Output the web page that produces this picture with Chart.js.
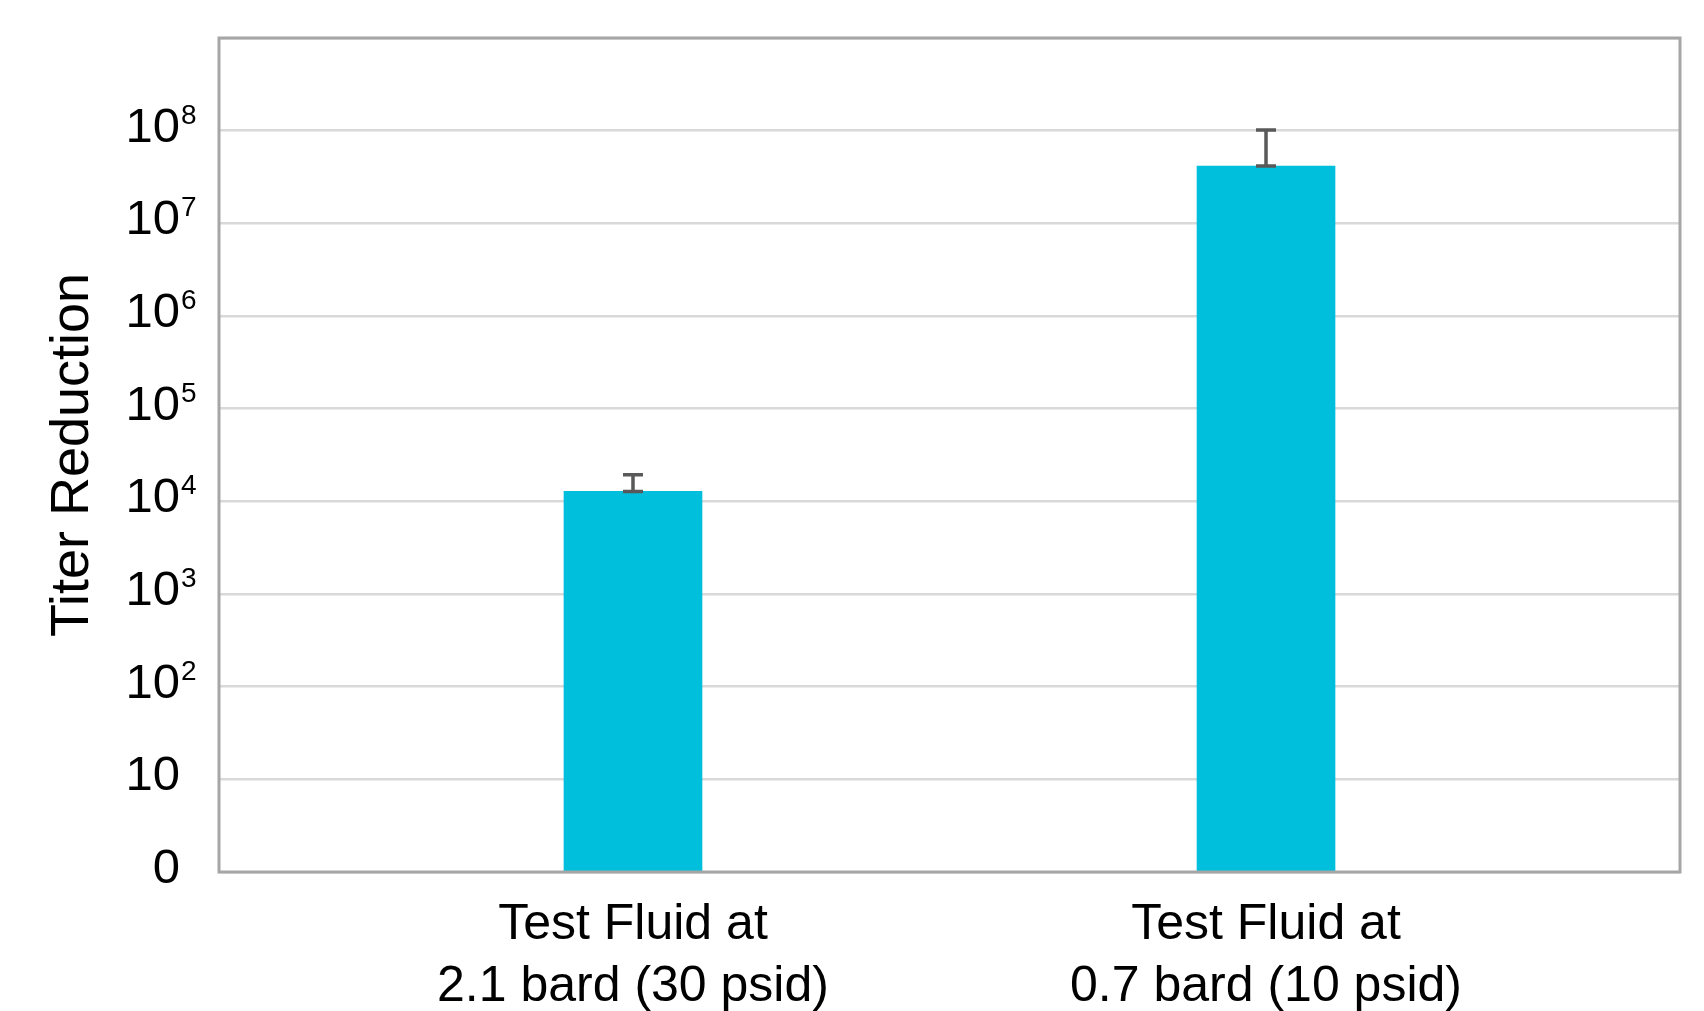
<!DOCTYPE html>
<html>
<head>
<meta charset="utf-8">
<script src="https://cdn.jsdelivr.net/npm/chart.js@4.4.0/dist/chart.umd.min.js"></script>
<style>
  body { margin: 0; background: #fff; }
  #wrap { width: 1704px; height: 1011px; }
</style>
</head>
<body>
<div id="wrap"><canvas id="mycanvas" width="1704" height="1011"></canvas></div>
<script>
// data
var categories = [
	['Test Fluid at', '2.1 bard (30 psid)'],
	['Test Fluid at', '0.7 bard (10 psid)']
];
var titerReduction = [1.28e4, 4.16e7];
var errorPlus = [0.66e4, 6.0e7];
var yTickValues = [1, 10, 1e2, 1e3, 1e4, 1e5, 1e6, 1e7, 1e8];
var yTickBase = ['0', '10', '10', '10', '10', '10', '10', '10', '10'];
var yTickExp = ['', '', '2', '3', '4', '5', '6', '7', '8'];

var FONT = '"Liberation Sans", Arial, sans-serif';

// grey frame round the plot area
var frame = {
	id: 'frame',
	afterDatasetsDraw: function(chart){
		var a = chart.chartArea, ctx = chart.ctx;
		ctx.save();
		ctx.strokeStyle = '#a6a6a6';
		ctx.lineWidth = 3;
		ctx.strokeRect(a.left, a.top, a.right - a.left, a.bottom - a.top);
		ctx.restore();
	}
};

// error bars (plus side) for each bar
var errBars = {
	id: 'errBars',
	afterDatasetsDraw: function(chart){
		var ctx = chart.ctx, y = chart.scales.y;
		var meta = chart.getDatasetMeta(0);
		ctx.save();
		ctx.strokeStyle = '#595959';
		ctx.lineWidth = 3.5;
		meta.data.forEach(function(bar, i){
			var y0 = y.getPixelForValue(titerReduction[i]);
			var y1 = y.getPixelForValue(titerReduction[i] + errorPlus[i]);
			ctx.beginPath();
			ctx.moveTo(bar.x, y0); ctx.lineTo(bar.x, y1);
			ctx.moveTo(bar.x - 10, y0); ctx.lineTo(bar.x + 10, y0);
			ctx.moveTo(bar.x - 10, y1); ctx.lineTo(bar.x + 10, y1);
			ctx.stroke();
		});
		ctx.restore();
	}
};

// y tick labels with superscript powers
var powerLabels = {
	id: 'powerLabels',
	afterDraw: function(chart){
		var ctx = chart.ctx, y = chart.scales.y;
		var xr = chart.chartArea.left - 39;
		ctx.save();
		ctx.fillStyle = '#000';
		ctx.textBaseline = 'alphabetic';
		for(var i in yTickValues){
			var py = y.getPixelForValue(yTickValues[i]) + 11;
			ctx.font = '49px ' + FONT;
			ctx.textAlign = 'right';
			ctx.fillText(yTickBase[i], xr, py);
			if(yTickExp[i]){
				ctx.font = '28px ' + FONT;
				ctx.textAlign = 'left';
				ctx.fillText(yTickExp[i], xr + 1, py - 18);
			}
		}
		ctx.restore();
	}
};

var chartdata = {
	datasets: [{
		label: 'Titer Reduction',
		backgroundColor: '#00bfdc',
		borderWidth: 0,
		barThickness: 138,
		data: titerReduction.map(function(v, i){ return {x: i + 1, y: v}; })
	}]
};

var ctx = document.getElementById('mycanvas');
var barGraph = new Chart(ctx, {
	type: 'bar',
	data: chartdata,
	plugins: [frame, errBars, powerLabels],
	options: {
		responsive: false,
		animation: false,
		layout: {padding: {left: 0, right: 24, top: 38, bottom: 0}},
		plugins: {legend: {display: false}, tooltip: {enabled: false}},
		scales: {
			x: {
				type: 'linear',
				min: 0.346,
				max: 2.654,
				offset: false,
				grid: {display: false, offset: false},
				border: {display: false},
				afterBuildTicks: function(s){
					s.ticks = categories.map(function(c, i){ return {value: i + 1}; });
				},
				afterFit: function(s){ s.height = 139; },
				ticks: {
					color: '#000',
					padding: 14,
					maxRotation: 0,
					autoSkip: false,
					font: {family: FONT, size: 50, lineHeight: 1.24},
					callback: function(v){ return categories[v - 1]; }
				}
			},
			y: {
				type: 'logarithmic',
				min: 1,
				max: 1e9,
				afterBuildTicks: function(s){
					s.ticks = yTickValues.concat([1e9]).map(function(v){ return {value: v}; });
				},
				afterFit: function(s){ s.width = 219; },
				grid: {color: '#d9d9d9', lineWidth: 2.5, drawTicks: false},
				border: {display: false},
				ticks: {display: false},
				title: {
					display: true,
					text: 'Titer Reduction',
					color: '#000',
					font: {family: FONT, size: 54},
					padding: {top: 41, bottom: 0}
				}
			}
		}
	}
});
</script>
</body>
</html>
